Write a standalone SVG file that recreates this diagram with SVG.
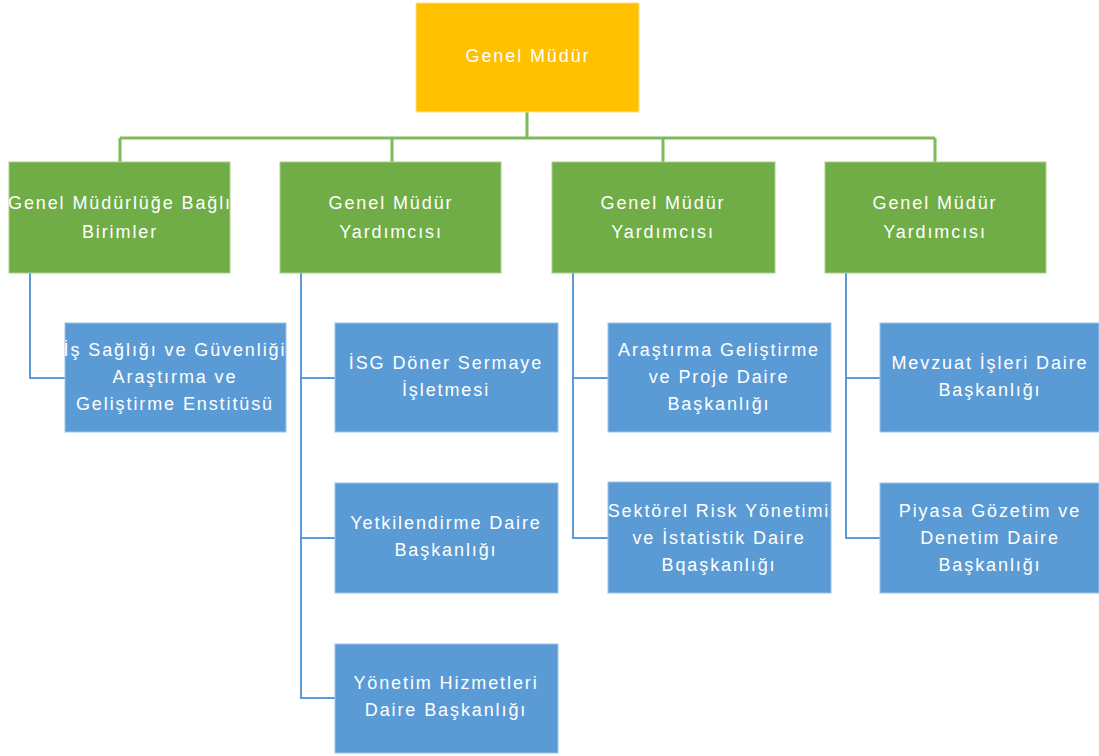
<svg xmlns="http://www.w3.org/2000/svg" width="1099" height="756" viewBox="0 0 1099 756">
<style>
.top{fill:#FFC000;stroke:#FFE08A;stroke-width:1}
.g{fill:#70AD47;stroke:#A9D08E;stroke-width:1}
.b{fill:#5B9BD5;stroke:#9DC3E6;stroke-width:1}
text{font-family:"Liberation Sans",Arial,sans-serif;font-size:18px;fill:#FFFFFF;text-anchor:middle;letter-spacing:1.9px}
.gl{fill:none;stroke:#7FB95A;stroke-width:3}
.bl{fill:none;stroke:#5B9BD5;stroke-width:2}
</style>
<rect width="1099" height="756" fill="#FFFFFF"/>
<g id="connectors">
<path class="gl" d="M527 112V138M120 138H935M120 138V162M392 138V162M663 138V162M935 138V162"/>
<path class="bl" d="M30 273V378H65"/>
<path class="bl" d="M301 273V698H335M301 378H335M301 538H335"/>
<path class="bl" d="M573 273V538H608M573 378H608"/>
<path class="bl" d="M846 273V538H880M846 378H880"/>
</g>
<g id="n0"><rect class="top" x="416" y="3" width="223" height="109"/><text x="528" y="62">Genel Müdür</text></g>
<g id="n1"><rect class="g" x="9" y="162" width="221" height="111"/><text x="120" y="209">Genel Müdürlüğe Bağlı</text><text x="120" y="238">Birimler</text></g>
<g id="n2"><rect class="g" x="280" y="162" width="221" height="111"/><text x="391" y="209">Genel Müdür</text><text x="391" y="238">Yardımcısı</text></g>
<g id="n3"><rect class="g" x="552" y="162" width="223" height="111"/><text x="663" y="209">Genel Müdür</text><text x="663" y="238">Yardımcısı</text></g>
<g id="n4"><rect class="g" x="825" y="162" width="221" height="111"/><text x="935" y="209">Genel Müdür</text><text x="935" y="238">Yardımcısı</text></g>
<g id="n5"><rect class="b" x="65" y="323" width="221" height="109"/><text x="175" y="356">İş Sağlığı ve Güvenliği</text><text x="175" y="383">Araştırma ve</text><text x="175" y="410">Geliştirme Enstitüsü</text></g>
<g id="n6"><rect class="b" x="335" y="323" width="223" height="109"/><text x="446" y="369">İSG Döner Sermaye</text><text x="446" y="396">İşletmesi</text></g>
<g id="n7"><rect class="b" x="335" y="483" width="223" height="110"/><text x="446" y="529">Yetkilendirme Daire</text><text x="446" y="556">Başkanlığı</text></g>
<g id="n8"><rect class="b" x="335" y="644" width="223" height="109"/><text x="446" y="689">Yönetim Hizmetleri</text><text x="446" y="716">Daire Başkanlığı</text></g>
<g id="n9"><rect class="b" x="608" y="323" width="223" height="109"/><text x="719" y="356">Araştırma Geliştirme</text><text x="719" y="383">ve Proje Daire</text><text x="719" y="410">Başkanlığı</text></g>
<g id="n10"><rect class="b" x="608" y="482" width="223" height="111"/><text x="719" y="517">Sektörel Risk Yönetimi</text><text x="719" y="544">ve İstatistik Daire</text><text x="719" y="571">Bqaşkanlığı</text></g>
<g id="n11"><rect class="b" x="880" y="323" width="219" height="109"/><text x="990" y="369">Mevzuat İşleri Daire</text><text x="990" y="396">Başkanlığı</text></g>
<g id="n12"><rect class="b" x="880" y="483" width="219" height="110"/><text x="990" y="517">Piyasa Gözetim ve</text><text x="990" y="544">Denetim Daire</text><text x="990" y="571">Başkanlığı</text></g>
</svg>
